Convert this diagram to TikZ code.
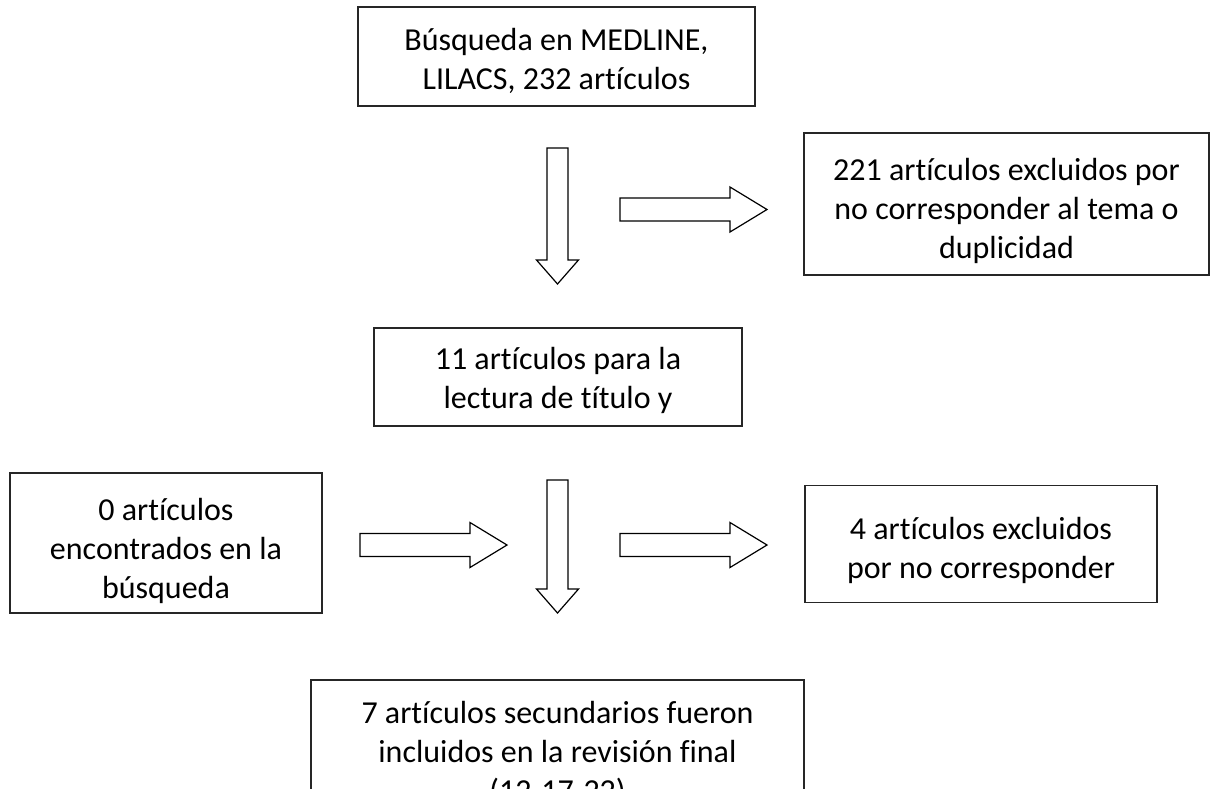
\documentclass[tikz,border=0pt]{standalone}
\usepackage{fontspec}
\setmainfont{Carlito}[Ligatures={NoCommon}]
\begin{document}
\begin{tikzpicture}[x=1pt,y=-1pt,
  box/.style={draw=black!85, line width=1.4pt, inner sep=0pt},
  txt/.style={inner sep=0pt, align=center, font=\fontsize{32}{39}\selectfont},
  blk/.style={draw=black, line width=1.2pt, fill=white, line join=miter}]
\useasboundingbox (0,0) rectangle (1215,788);
\clip (0,0) rectangle (1215,788);
\fill[white] (0,0) rectangle (1215,788);

\node[box, minimum width=397pt, minimum height=99pt] (b1) at (556.5,56.5) {};
\node[txt, yshift=-4pt] (t1) at (b1.center) {Búsqueda en MEDLINE,\\LILACS, 232 artículos};

\node[box, minimum width=405pt, minimum height=142pt] (b221) at (1006.5,204) {};
\node[txt, yshift=-7pt] (t221) at (b221.center)
  {221 artículos excluidos por\\no corresponder al tema o\\duplicidad};

\node[box, minimum width=368pt, minimum height=98pt] (b11) at (558,377) {};
\node[txt, yshift=-3pt] (t11) at (b11.center) {11 artículos para la\\lectura de título y};

\node[box, minimum width=312pt, minimum height=140pt] (b0) at (166,543) {};
\node[txt, yshift=-8pt] (t0) at (b0.center) {0 artículos\\encontrados en la\\búsqueda};

\node[box, minimum width=352pt, minimum height=117pt] (b4) at (981,544) {};
\node[txt, yshift=-6pt] (t4) at (b4.center) {4 artículos excluidos\\por no corresponder};

\node[box, minimum width=493pt, minimum height=148pt] (b7) at (557.5,754) {};
\node[txt] (t7) at (b7.center)
  {7 artículos secundarios fueron\\incluidos en la revisión final\\(12-17-22)};

% vertical block arrows
\draw[blk] (547,148) -- (568,148) -- (568,260) -- (578.5,260) -- (557.5,284)
  -- (536.5,260) -- (547,260) -- cycle;
\draw[blk] (547,480) -- (568,480) -- (568,589) -- (578.5,589) -- (557.5,613)
  -- (536.5,589) -- (547,589) -- cycle;
% horizontal block arrows
\draw[blk] (620,198) -- (730,198) -- (730,187) -- (767,209.5) -- (730,232)
  -- (730,221) -- (620,221) -- cycle;
\draw[blk] (360,533.5) -- (470,533.5) -- (470,522.5) -- (507,545) -- (470,567.5)
  -- (470,556.5) -- (360,556.5) -- cycle;
\draw[blk] (620,533.5) -- (730,533.5) -- (730,522.5) -- (767,545) -- (730,567.5)
  -- (730,556.5) -- (620,556.5) -- cycle;
\end{tikzpicture}
\end{document}
